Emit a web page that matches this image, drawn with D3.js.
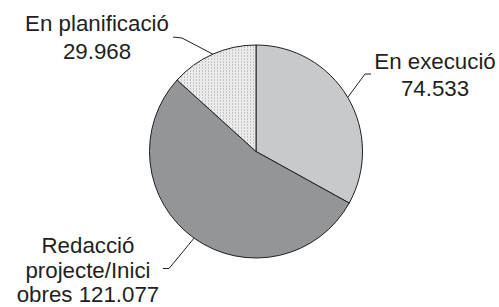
<!DOCTYPE html>
<html>
<head>
<meta charset="utf-8">
<script src="https://cdn.jsdelivr.net/npm/d3@7"></script>
<style>
  body { margin: 0; background: #fff; overflow: hidden; }
  text { font-family: "Liberation Sans", Arial, sans-serif; fill: #231f20; }
</style>
</head>
<body>
<div id="pie-chart"></div>
<script>
let width_pie = 499;
let height_pie = 307;

// data
let categories = ["En execució", "Redacció projecte/Inici obres", "En planificació"];
let values = [74.533, 121.077, 29.968];
let label_lines = [
    ["En execució", "74.533"],
    ["Redacció", "projecte/Inici", "obres 121.077"],
    ["En planificació", "29.968"]
];

let pie_center = {x: 256, y: 151.5};
let pie_radius = 106.5;
let font_size = 22.3;

// fills per slice, last one is the dotted pattern
let slice_fills = ["#c8c9cb", "#939598", "url(#dots)"];

// label layout: text anchor point, line height, leader elbow and end
let label_layout = [
    {x: 435, y: 69, lh: 26.5, elbow: [365, 74], end: [371, 74]},
    {x: 88, y: 253, lh: 24.5, elbow: [169, 268.5], end: [163, 268.5]},
    {x: 97, y: 31, lh: 27.5, elbow: [182, 38], end: [173, 37]}
];

let svg_pie = d3.select("#pie-chart")
    .append("svg")
    .attr("width", width_pie)
    .attr("height", height_pie);

let defs = svg_pie.append("defs");
let pattern = defs.append("pattern")
    .attr("id", "dots")
    .attr("patternUnits", "userSpaceOnUse")
    .attr("width", 3)
    .attr("height", 3);
pattern.append("rect").attr("width", 3).attr("height", 3).attr("fill", "#f6f6f6");
pattern.append("rect").attr("x", 0).attr("y", 0).attr("width", 1).attr("height", 1).attr("fill", "#8a8a8a");
pattern.append("rect").attr("x", 1.5).attr("y", 1.5).attr("width", 1).attr("height", 1).attr("fill", "#b4b4b4");

let pie_data = d3.pie().sort(null)(values);
let arc = d3.arc().innerRadius(0).outerRadius(pie_radius);

let g_pie = svg_pie.append("g")
    .attr("transform", "translate(" + pie_center.x + "," + pie_center.y + ")");

g_pie.selectAll(".slice")
    .data(pie_data)
    .join("path")
    .attr("class", "slice")
    .attr("d", arc)
    .attr("fill", (d, i) => slice_fills[i])
    .attr("stroke", "#231f20")
    .attr("stroke-width", 1);

// leader lines from the slice edge at its mid angle
let edge_arc = d3.arc().innerRadius(pie_radius).outerRadius(pie_radius);
svg_pie.selectAll(".leader")
    .data(pie_data)
    .join("polyline")
    .attr("class", "leader")
    .attr("points", (d, i) => {
        let c = edge_arc.centroid(d);
        let p0 = [c[0] + pie_center.x, c[1] + pie_center.y];
        let lay = label_layout[i];
        return [p0, lay.elbow, lay.end].map(p => p.join(",")).join(" ");
    })
    .attr("fill", "none")
    .attr("stroke", "#231f20")
    .attr("stroke-width", 1);

svg_pie.selectAll(".label")
    .data(pie_data)
    .join("text")
    .attr("class", "label")
    .attr("text-anchor", "middle")
    .attr("font-size", font_size)
    .each(function (d, i) {
        let lay = label_layout[i];
        d3.select(this).selectAll("tspan")
            .data(label_lines[i])
            .join("tspan")
            .attr("x", lay.x)
            .attr("y", (t, j) => lay.y + j * lay.lh)
            .text(t => t);
    });
</script>
</body>
</html>
